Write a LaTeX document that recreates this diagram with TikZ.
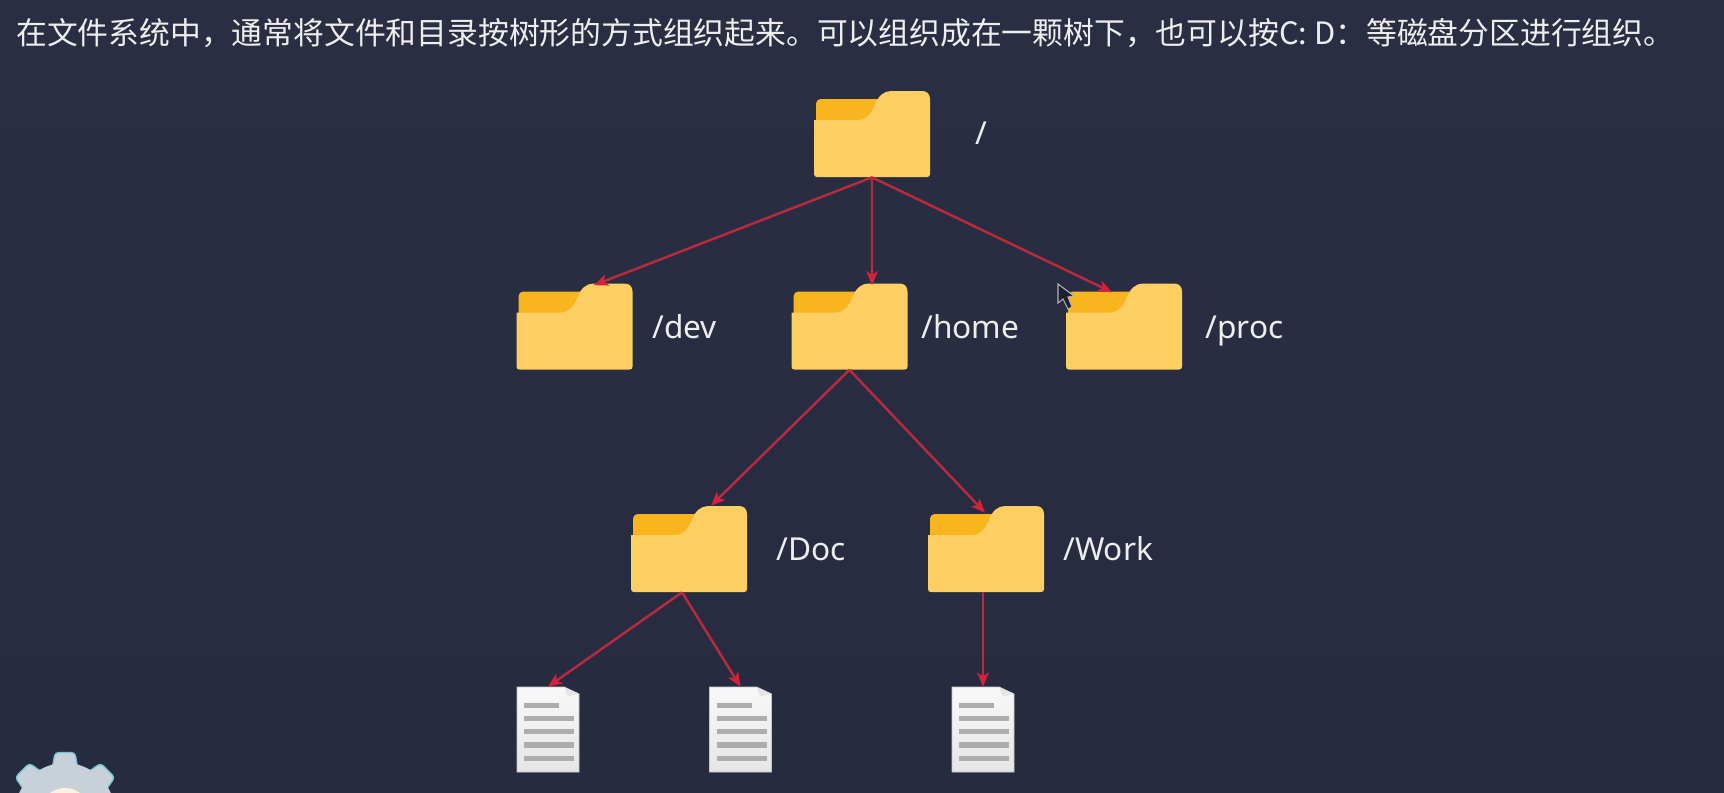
\documentclass[tikz,border=0pt]{standalone}
\usepackage{fontspec}
\setmainfont{Noto Sans}
\newfontfamily\cjk{Noto Sans CJK SC}
\usepackage{xcolor}
\usepackage{tikz}
\usetikzlibrary{arrows.meta, calc}
\definecolor{slate}{HTML}{2A2E42}
\definecolor{slatelow}{HTML}{272B3F}
\definecolor{front}{HTML}{FDCF63}
\definecolor{tabc}{HTML}{F9B51E}
\definecolor{edge}{HTML}{B92A3F}
\definecolor{tipc}{HTML}{D4213D}
\definecolor{chalk}{HTML}{EEEEEE}
\definecolor{gearc}{HTML}{C8D0DA}
\definecolor{gearrim}{HTML}{6FC6D8}
\newcommand{\folderbox}[1]{%
  \begin{scope}[shift={(#1.center)}]
    \fill[tabc] (-56,-8) -- (-56,-29) .. controls (-56,-33) and (-54,-35) .. (-50,-35)
      -- (10,-35) -- (10,-8) -- cycle;
    \fill[front] (-58,40) -- (-58,-14) -- (-14,-14)
      .. controls (-5,-14) and (-1,-20) .. (3,-29)
      .. controls (6,-38) and (12,-43) .. (19,-43)
      -- (50,-43) .. controls (55,-43) and (58,-40) .. (58,-35)
      -- (58,40) .. controls (58,42) and (57,43) .. (55,43)
      -- (-55,43) .. controls (-57,43) and (-58,42) .. (-58,40) -- cycle;
  \end{scope}%
}
\newcommand{\pagebox}[1]{%
  \begin{scope}[shift={(#1.center)}]
    \draw[draw=gray!45, line width=0.5pt, top color=white!95!gray, bottom color=white!80!gray]
      (-31,-42.5) -- (16,-42.5) -- (31,-35.5) -- (31,42.5) -- (-31,42.5) -- cycle;
    \fill[white!80!gray] (16,-42.5) -- (31,-35.5) -- (20,-33) -- cycle;
    \fill[black!32] (-24,-27) rectangle (11,-21.5);
    \foreach \y in {-10.8,1.8,15.5,29.2}{\fill[black!32] (-24,\y-2.75) rectangle (26,\y+2.75);}
  \end{scope}%
}

\begin{document}
\begin{tikzpicture}[
  x=0.02cm, y=-0.02cm,
  folder/.style={rectangle, minimum width=2.32cm, minimum height=1.72cm, inner sep=0pt},
  page/.style={rectangle, minimum width=1.24cm, minimum height=1.7cm, inner sep=0pt},
  lbl/.style={anchor=base west, text=chalk, font=\fontsize{18}{20}\selectfont, inner sep=0pt},
  link/.style={-{Stealth[length=2.8mm, width=2.3mm, inset=0.7mm, color=tipc]}, line width=1.4pt, edge}
]
\useasboundingbox (0,0) rectangle (1724,792);
\fill[top color=slate, bottom color=slatelow] (0,0) rectangle (1724,792);

% ===== Heading =====
\node[anchor=west, text=chalk, inner sep=0pt, font=\cjk\fontsize{17.53}{20}\selectfont] (heading) at (16,33)
  {在文件系统中，通常将文件和目录按树形的方式组织起来。可以组织成在一颗树下，也可以按C: D：等磁盘分区进行组织。};

% ===== Folders =====
\node[folder] (root) at (872,134) {};
\node[folder] (dev)  at (574.5,326.5) {};
\node[folder] (home) at (849.5,326.5) {};
\node[folder] (proc) at (1124,326.5) {};
\node[folder] (doc)  at (689,549) {};
\node[folder] (work) at (986,549) {};

% ===== Files =====
\node[page] (fileA) at (548,729.5) {};
\node[page] (fileB) at (740.5,729.5) {};
\node[page] (fileC) at (983,729.5) {};

\foreach \n in {root,dev,home,proc,doc,work}{\folderbox{\n}}
\foreach \n in {fileA,fileB,fileC}{\pagebox{\n}}

% ===== Labels =====
\node[lbl] (rootlbl) at (975,144) {/};
\node[lbl] (devlbl)  at (652,338) {/dev};
\node[lbl] (homelbl) at (921,338) {/home};
\node[lbl] (proclbl) at (1205,338) {/proc};
\node[lbl] (doclbl)  at (776,560) {/Doc};
\node[lbl] (worklbl) at (1063,560) {/Work};

% ===== Links =====
\draw[link] (root.south) -- ([shift={(19.5,2)}]dev.north);
\draw[link] (root.south) -- ([shift={(22.5,2)}]home.north);
\draw[link] (root.south) -- ([shift={(-12,9)}]proc.north);
\draw[link] (home.south) -- ([shift={(22,0)}]doc.north);
\draw[link] (home.south) -- ([shift={(-1,7)}]work.north);
\draw[link] ([shift={(-7,0)}]doc.south) -- (fileA.north);
\draw[link] ([shift={(-7,0)}]doc.south) -- (fileB.north);
\draw[link] ([shift={(-3,0)}]work.south) -- (fileC.north);

% ===== Pointer =====
\draw[fill=slate!70!black, draw=gray!60, line width=0.6pt]
  (1058,284) -- (1058,303) -- (1063,299) -- (1068,309) -- (1072,307) -- (1068,297) -- (1074,296) -- cycle;

% ===== Gear at the lower edge =====
\begin{scope}
\clip (0,0) rectangle (1724,792);
\foreach \a in {0,45,...,315}{
  \fill[rotate around={\a:(65,813)}, fill=gearc, draw=gearrim, line width=0.7pt, rounded corners=2pt]
    (51,775) -- (55,752.5) -- (75,752.5) -- (79,775) -- cycle;
}
\fill[gearc] (65,813) circle (50);
\fill[white!88!orange] (65,813) circle (25);
\end{scope}

\end{tikzpicture}
\end{document}
